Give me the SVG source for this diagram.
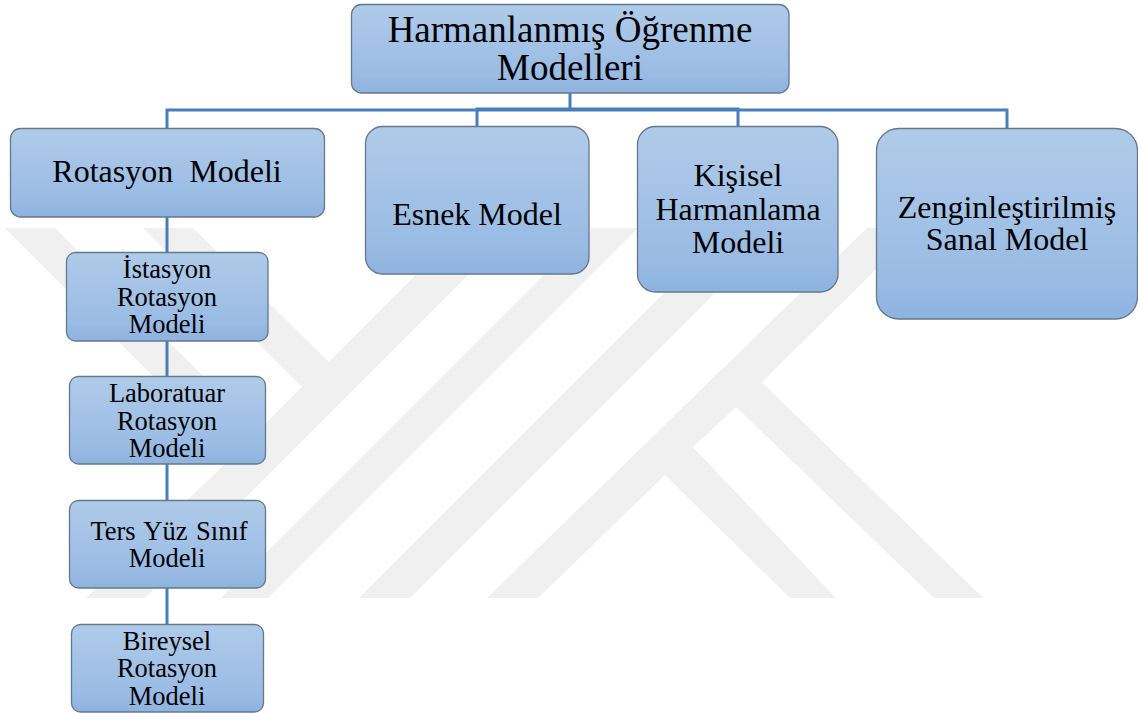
<svg xmlns="http://www.w3.org/2000/svg" width="1138" height="713" viewBox="0 0 1138 713">
<style>
.box{fill:url(#g);stroke:#66788c;stroke-width:1.3}
.wm{fill:#f0f0f0}
.c{fill:none;stroke:#4a7ebb;stroke-width:3}
text{font-family:"Liberation Serif","Times New Roman",serif;fill:#000;text-anchor:middle}
.t1{font-size:37px}.t2{font-size:32px}.t3{font-size:26.500px}
</style>
<defs><linearGradient id="g" x1="0" y1="0" x2="0" y2="1"><stop offset="0" stop-color="#b0cbe9"/><stop offset=".8" stop-color="#99bbe4"/><stop offset="1" stop-color="#8db3df"/></linearGradient></defs>
<g id="watermark">
<polygon class="wm" points="5,228 55,228 258,431 302,387 143,228 193,228 329,362 462,228 515,228 145,598 86,598 233,456"/>
<polygon class="wm" points="591,228 638,228 268,598 221,598"/>
<polygon class="wm" points="729,228 780,228 410,598 359,598"/>
<polygon class="wm" points="867,228 918,228 762,382 983,598 934,598 736,407 693,447 836,598 790,598 665,475 538,598 487,598"/>
</g>
<g id="connectors">
<path class="c" d="M570 93V110M167 128V110H1007V128M477 126V109H738V126"/>
<path class="c" d="M167 217V252M167 341V376M167 464V500M167 588V624"/>
</g>
<g id="n-title"><rect class="box" x="351.500" y="4.500" width="437.500" height="88.500" rx="10"/><text class="t1" x="570" y="42">Harmanlanmış Öğrenme</text><text class="t1" x="570" y="80">Modelleri</text></g>
<g id="n-rotasyon"><rect class="box" x="10.500" y="128.500" width="314" height="88.500" rx="10"/><text class="t2" x="167" y="182" xml:space="preserve">Rotasyon  Modeli</text></g>
<g id="n-esnek"><rect class="box" x="365.500" y="126.500" width="223.500" height="147.500" rx="17"/><text class="t2" x="477" y="225">Esnek Model</text></g>
<g id="n-kisisel"><rect class="box" x="637.500" y="126.500" width="200.500" height="165.500" rx="18"/><text class="t2" x="738" y="186">Kişisel</text><text class="t2" x="738" y="220">Harmanlama</text><text class="t2" x="738" y="253">Modeli</text></g>
<g id="n-zengin"><rect class="box" x="876.500" y="128.500" width="261" height="190.500" rx="22"/><text class="t2" x="1007" y="218">Zenginleştirilmiş</text><text class="t2" x="1007" y="250">Sanal Model</text></g>
<g id="n-istasyon"><rect class="box" x="66.500" y="252.500" width="201.500" height="88.500" rx="9"/><text class="t3" x="167" y="278">İstasyon</text><text class="t3" x="167" y="306">Rotasyon</text><text class="t3" x="167" y="333">Modeli</text></g>
<g id="n-lab"><rect class="box" x="69.500" y="376.500" width="196" height="87.500" rx="9"/><text class="t3" x="167" y="402">Laboratuar</text><text class="t3" x="167" y="430">Rotasyon</text><text class="t3" x="167" y="457">Modeli</text></g>
<g id="n-ters"><rect class="box" x="69.500" y="500.500" width="196" height="87.500" rx="9"/><text class="t3" x="169" y="540" word-spacing="2">Ters Yüz Sınıf</text><text class="t3" x="167" y="567">Modeli</text></g>
<g id="n-bireysel"><rect class="box" x="71.500" y="624.500" width="192" height="87.500" rx="9"/><text class="t3" x="167" y="650">Bireysel</text><text class="t3" x="167" y="677">Rotasyon</text><text class="t3" x="167" y="705">Modeli</text></g>
</svg>
